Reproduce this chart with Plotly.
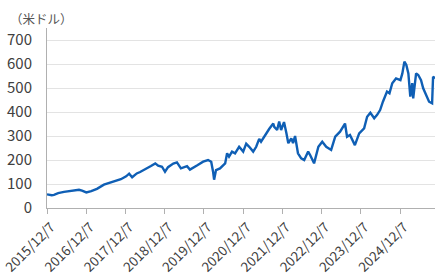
import plotly.graph_objects as go

dates = [
    "2015-12-07", "2016-01-20", "2016-02-10", "2016-03-20", "2016-05-13", "2016-07-05",
    "2016-08-16", "2016-09-30", "2016-10-28", "2016-12-07", "2017-01-22", "2017-03-16",
    "2017-05-20", "2017-07-05", "2017-08-22", "2017-10-25", "2017-12-13", "2018-01-10",
    "2018-02-07", "2018-03-22", "2018-04-22", "2018-05-28", "2018-06-25", "2018-08-01",
    "2018-09-10", "2018-10-07", "2018-11-12", "2018-12-10", "2019-01-07", "2019-02-25",
    "2019-03-31", "2019-05-07", "2019-07-03", "2019-07-30", "2019-10-07", "2019-11-30",
    "2020-01-15", "2020-02-13", "2020-03-02", "2020-03-11", "2020-03-29", "2020-05-05",
    "2020-06-22", "2020-07-10", "2020-07-28", "2020-08-25", "2020-09-22", "2020-10-30",
    "2020-12-07", "2021-01-04", "2021-02-01", "2021-03-10", "2021-04-07", "2021-05-05",
    "2021-05-22", "2021-07-07", "2021-08-07", "2021-09-13", "2021-09-22", "2021-10-19",
    "2021-11-07", "2021-11-25", "2021-12-22", "2022-01-13", "2022-01-31", "2022-02-28",
    "2022-03-16", "2022-04-04", "2022-05-01", "2022-05-31", "2022-06-28", "2022-08-04",
    "2022-08-22", "2022-09-28", "2022-11-07", "2022-12-13", "2023-01-19", "2023-03-06",
    "2023-04-13", "2023-05-28", "2023-07-13", "2023-08-01", "2023-08-28", "2023-10-13",
    "2023-11-22", "2024-01-07", "2024-02-04", "2024-03-05", "2024-04-10", "2024-05-07",
    "2024-06-04", "2024-06-30", "2024-08-07", "2024-08-30", "2024-09-25", "2024-10-30",
    "2024-12-10", "2024-12-28", "2025-01-16", "2025-02-03", "2025-02-22", "2025-03-12",
    "2025-03-30", "2025-04-08", "2025-05-05", "2025-05-25", "2025-06-20", "2025-07-10",
    "2025-08-16", "2025-09-03", "2025-10-01", "2025-10-10", "2025-10-28",
]
prices = [
    57, 53, 55, 62, 67, 70,
    74, 76, 72, 65, 70, 80,
    97, 104, 110, 120, 132, 143,
    128, 144, 150, 158, 165, 175,
    186, 176, 172, 151, 170, 185,
    190, 165, 174, 160, 178, 193,
    200, 193, 150, 118, 158, 165,
    186, 228, 214, 235, 228, 255,
    235, 268, 255, 235, 255, 288,
    276, 310, 330, 352, 338, 325,
    360, 325, 358, 312, 270, 290,
    270, 300, 228, 207, 200, 235,
    221, 186, 255, 276, 255, 242,
    297, 318, 352, 297, 304, 262,
    311, 332, 380, 397, 374, 388,
    408, 443, 485, 478, 520, 540,
    533, 561, 610, 596, 561, 464,
    520, 457, 561, 554, 533, 499,
    464, 443, 436, 547, 540,
]

tick_dates = ["2015-12-07", "2016-12-07", "2017-12-07", "2018-12-07", "2019-12-07",
              "2020-12-07", "2021-12-07", "2022-12-07", "2023-12-07", "2024-12-07"]
tick_labels = ["2015/12/7", "2016/12/7", "2017/12/7", "2018/12/7", "2019/12/7",
               "2020/12/7", "2021/12/7", "2022/12/7", "2023/12/7", "2024/12/7"]
y_ticks = [0, 100, 200, 300, 400, 500, 600, 700]
unit_label = "（米ドル）"

FONT = "Noto Sans CJK JP"

fig = go.Figure(go.Scatter(
    x=dates, y=prices, mode="lines",
    line=dict(color="#0f5fb5", width=2.4),
    hoverinfo="skip",
))

fig.update_layout(
    width=448, height=280,
    margin=dict(l=47, r=13, t=28, b=72),
    paper_bgcolor="white", plot_bgcolor="white",
    showlegend=False,
    font=dict(family=FONT, color="#404040"),
    xaxis=dict(
        type="date", automargin=False, ticklabeloverflow="allow",
        range=["2015-12-07", "2025-10-28"],
        tickmode="array", tickvals=tick_dates, ticktext=tick_labels,
        tickangle=-45, tickfont=dict(size=13.5, color="#404040", family=FONT),
        ticklabelshift=4,
        ticks="outside", ticklen=5, tickcolor="#b0b0b0",
        showline=True, linecolor="#b0b0b0", linewidth=1,
        showgrid=False, zeroline=False,
    ),
    yaxis=dict(
        automargin=False,
        range=[0, 750],
        tickmode="array", tickvals=y_ticks,
        tickfont=dict(size=15, color="#404040", family=FONT),
        showline=True, linecolor="#b0b0b0", linewidth=1,
        showgrid=True, gridcolor="#e3e3e3", gridwidth=1,
        zeroline=False, ticks="", ticklabelstandoff=11,
    ),
    annotations=[dict(
        text=unit_label, xref="paper", yref="paper",
        x=(8 - 47) / 388, y=1 + (28 - 19) / 180, xanchor="left", yanchor="middle",
        showarrow=False, font=dict(size=12.5, color="#555555", family=FONT),
    )],
)

fig.write_html("out.html")
